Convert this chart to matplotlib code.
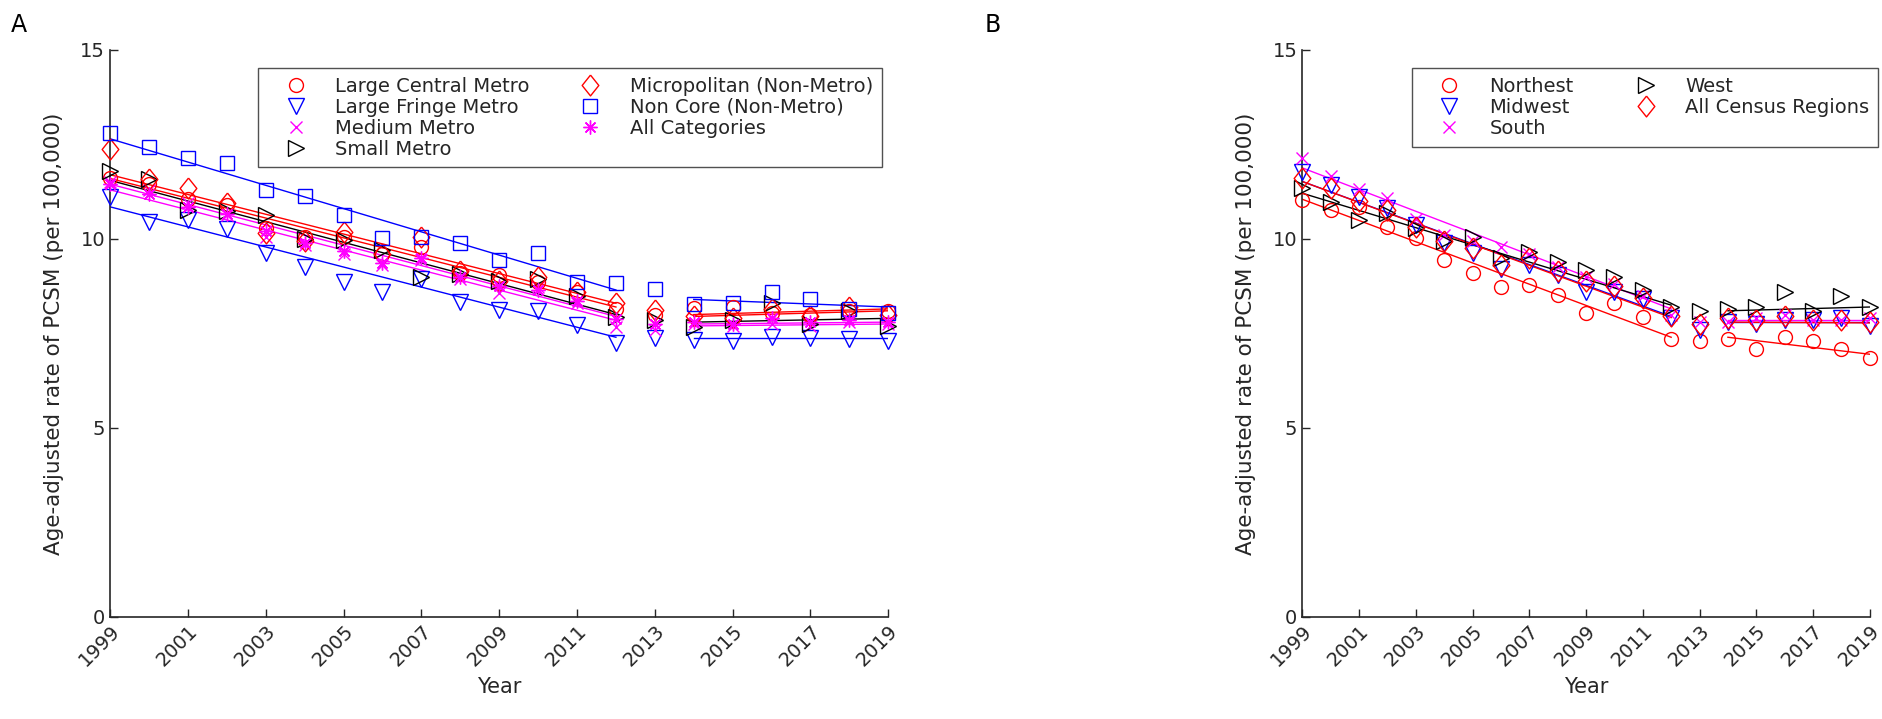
import numpy as np
import matplotlib
matplotlib.use("Agg")
import matplotlib.pyplot as plt

years = np.arange(1999, 2020)
fit1 = [1999, 2012]
fit2 = [2014, 2019]

# ---- panel A: urbanization categories ----
a_names = ["Large Central Metro", "Large Fringe Metro", "Medium Metro", "Small Metro",
           "Micropolitan (Non-Metro)", "Non Core (Non-Metro)", "All Categories"]
lcm = [11.6, 11.45, 11.05, 10.9, 10.3, 10.05, 10.05, 9.6, 9.8, 9.1, 9.05, 8.85, 8.6, 8.15,
       7.99, 8.17, 8.2, 8.05, 8.0, 8.1, 8.1]
lfm = [11.12, 10.46, 10.5, 10.26, 9.64, 9.27, 8.87, 8.61, 8.95, 8.34, 8.12, 8.1, 7.72, 7.26,
       7.37, 7.34, 7.31, 7.4, 7.38, 7.36, 7.3]
med = [11.5, 11.3, 10.95, 10.63, 10.06, 9.85, 9.6, 9.3, 9.45, 8.95, 8.56, 8.73, 8.3, 7.68,
       7.59, 7.75, 7.7, 7.75, 7.7, 7.8, 7.75]
small = [11.8, 11.58, 10.77, 10.75, 10.63, 10.0, 9.97, 9.71, 9.0, 9.08, 8.9, 8.95, 8.5, 7.93,
         7.86, 7.66, 7.86, 8.3, 7.75, 8.1, 7.7]
micro = [12.37, 11.58, 11.34, 10.94, 10.15, 9.95, 10.19, 9.6, 10.05, 9.15, 8.9, 9.0, 8.6, 8.3,
         8.12, 7.95, 7.9, 8.15, 7.95, 8.2, 8.0]
noncore = [12.8, 12.44, 12.13, 12.02, 11.3, 11.14, 10.63, 10.02, 10.06, 9.9, 9.44, 9.64, 8.87,
           8.84, 8.67, 8.28, 8.3, 8.6, 8.4, 8.15, 8.05]
allcat = [11.45, 11.2, 10.85, 10.65, 10.2, 9.9, 9.67, 9.36, 9.5, 9.0, 8.75, 8.65, 8.35, 7.87,
          7.75, 7.8, 7.75, 7.9, 7.8, 7.85, 7.8]
# trend segments: (1999, 2012) and (2014, 2019)
lcm_fit = [(11.7, 8.3), (8.0, 8.15)]
lfm_fit = [(10.85, 7.4), (7.37, 7.37)]
med_fit = [(11.3, 7.85), (7.7, 7.75)]
small_fit = [(11.55, 8.0), (7.8, 7.9)]
micro_fit = [(11.6, 8.2), (7.95, 8.1)]
noncore_fit = [(12.65, 8.65), (8.4, 8.2)]
allcat_fit = [(11.45, 7.95), (7.75, 7.8)]

# ---- panel B: census regions ----
b_names = ["Northest", "Midwest", "South", "West", "All Census Regions"]
northeast = [11.03, 10.77, 10.85, 10.32, 10.02, 9.44, 9.09, 8.72, 8.78, 8.52, 8.03, 8.3, 7.94,
             7.35, 7.3, 7.35, 7.1, 7.4, 7.3, 7.1, 6.85]
midwest = [11.78, 11.43, 11.1, 10.81, 10.36, 9.9, 9.62, 9.2, 9.31, 9.05, 8.61, 8.61, 8.4, 7.9,
           7.6, 7.8, 7.75, 7.85, 7.85, 7.9, 7.7]
south = [12.15, 11.67, 11.31, 11.08, 10.52, 10.1, 9.95, 9.8, 9.6, 9.25, 9.0, 8.8, 8.5, 8.0,
         7.8, 7.8, 7.9, 8.0, 7.85, 7.85, 7.9]
west = [11.34, 10.99, 10.5, 10.7, 10.28, 9.95, 10.06, 9.5, 9.66, 9.4, 9.18, 8.99, 8.65, 8.2,
        8.1, 8.15, 8.2, 8.6, 8.1, 8.5, 8.2]
allreg = [11.6, 11.34, 11.0, 10.77, 10.32, 9.95, 9.75, 9.3, 9.5, 9.15, 8.9, 8.75, 8.45, 7.95,
          7.75, 7.9, 7.85, 7.95, 7.85, 7.85, 7.8]
northeast_fit = [(11.05, 7.4), (7.4, 6.95)]
midwest_fit = [(11.52, 7.95), (7.8, 7.8)]
south_fit = [(11.88, 8.15), (7.85, 7.85)]
west_fit = [(11.21, 8.25), (8.1, 8.2)]
allreg_fit = [(11.52, 7.92), (7.8, 7.78)]

GREY = "#262626"
DIAMOND = [(0, 1), (0.8, 0), (0, -1), (-0.8, 0), (0, 1)]
STAR = (8, 2, 0)


def draw(ax, series, names):
    for (vals, fits, color, mk, ms), name in zip(series, names):
        ax.plot(years, vals, ls="none", marker=mk, ms=ms, mfc="none", mec=color, mew=1.0,
                clip_on=False, label=name, zorder=3)
        for xs, ys in zip((fit1, fit2), fits):
            ax.plot(xs, ys, color=color, lw=1.0, zorder=2)
    ax.set_xlim(1999, 2019)
    ax.set_ylim(0, 15)
    ax.set_xticks(np.arange(1999, 2020, 2))
    ax.set_yticks([0, 5, 10, 15])
    ax.tick_params(direction="in", length=6, width=1, colors=GREY, labelsize=14)
    plt.setp(ax.get_xticklabels(), rotation=45, ha="right", rotation_mode="anchor")
    for s in ("top", "right"):
        ax.spines[s].set_visible(False)
    for s in ("left", "bottom"):
        ax.spines[s].set_color(GREY)
        ax.spines[s].set_linewidth(1.2)
    ax.set_xlabel("Year", fontsize=15, color=GREY, labelpad=5)
    ax.set_ylabel("Age-adjusted rate of PCSM (per 100,000)", fontsize=15.5, color=GREY,
                  labelpad=12)


fig = plt.figure(figsize=(18.82, 7.19), dpi=100)
axA = fig.add_axes([0.0585, 0.1419, 0.4135, 0.7886])
axB = fig.add_axes([0.692, 0.1419, 0.3015, 0.7886])

a_series = [(lcm, lcm_fit, "red", "o", 10), (lfm, lfm_fit, "blue", "v", 12),
            (med, med_fit, "magenta", "x", 9), (small, small_fit, "black", ">", 12),
            (micro, micro_fit, "red", DIAMOND, 15), (noncore, noncore_fit, "blue", "s", 10),
            (allcat, allcat_fit, "magenta", STAR, 10)]
draw(axA, a_series, a_names)

b_series = [(northeast, northeast_fit, "red", "o", 10), (midwest, midwest_fit, "blue", "v", 12),
            (south, south_fit, "magenta", "x", 9), (west, west_fit, "black", ">", 12),
            (allreg, allreg_fit, "red", DIAMOND, 15)]
draw(axB, b_series, b_names)

for ax, anchor, cs in ((axA, (0.992, 0.968), 1.6), (axB, (1.015, 0.968), 2.2)):
    leg = ax.legend(ncol=2, loc="upper right", bbox_to_anchor=anchor, fontsize=14,
                    frameon=True, fancybox=False, edgecolor=GREY, handlelength=3.0,
                    handletextpad=0.55, columnspacing=cs, borderpad=0.45, labelspacing=0.1,
                    labelcolor=GREY, borderaxespad=0)
    leg.get_frame().set_linewidth(1.0)

fig.text(0.006, 0.955, "A", fontsize=17, color="black")
fig.text(0.523, 0.955, "B", fontsize=17, color="black")

fig.savefig("out.png", dpi=100)
